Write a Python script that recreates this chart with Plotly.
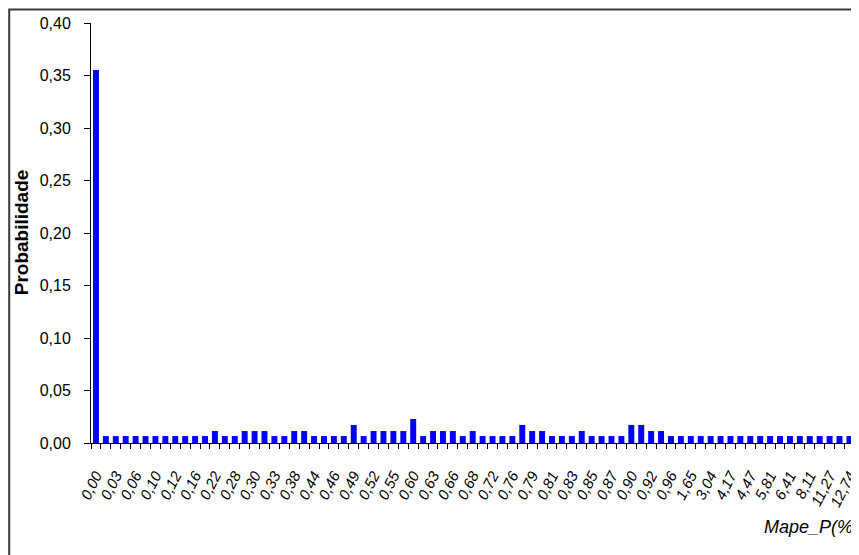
import plotly.graph_objects as go

# Category labels (odd-position labels are hidden in the reference; estimated)
categories = [
    "0,00", "0,01", "0,03", "0,05", "0,06", "0,08", "0,10", "0,11", "0,12", "0,14",
    "0,16", "0,20", "0,22", "0,25", "0,28", "0,29", "0,30", "0,32", "0,33", "0,36",
    "0,38", "0,41", "0,44", "0,45", "0,46", "0,47", "0,49", "0,51", "0,52", "0,54",
    "0,55", "0,57", "0,60", "0,62", "0,63", "0,65", "0,66", "0,67", "0,68", "0,70",
    "0,72", "0,74", "0,76", "0,78", "0,79", "0,80", "0,81", "0,82", "0,83", "0,84",
    "0,85", "0,86", "0,87", "0,89", "0,90", "0,91", "0,92", "0,94", "0,96", "1,21",
    "1,65", "2,37", "3,04", "3,52", "4,17", "4,30", "4,47", "5,12", "5,81", "6,05",
    "6,41", "7,26", "8,11", "9,84", "11,27", "12,03", "12,74", "13,90",
]

# Probability values
probabilidade = [
    0.3553,
    0.0066, 0.0066, 0.0066, 0.0066, 0.0066, 0.0066, 0.0066, 0.0066, 0.0066, 0.0066, 0.0066,
    0.0114,
    0.0066, 0.0066,
    0.0114, 0.0114, 0.0114,
    0.0066, 0.0066,
    0.0114, 0.0114,
    0.0066, 0.0066, 0.0066, 0.0066,
    0.0172,
    0.0066,
    0.0114, 0.0114, 0.0114, 0.0114,
    0.0229,
    0.0066,
    0.0114, 0.0114, 0.0114,
    0.0066,
    0.0114,
    0.0066, 0.0066, 0.0066, 0.0066,
    0.0172,
    0.0114, 0.0114,
    0.0066, 0.0066, 0.0066,
    0.0114,
    0.0066, 0.0066, 0.0066, 0.0066,
    0.0172, 0.0172,
    0.0114, 0.0114,
    0.0066, 0.0066, 0.0066, 0.0066, 0.0066, 0.0066, 0.0066, 0.0066, 0.0066, 0.0066,
    0.0066, 0.0066, 0.0066, 0.0066, 0.0066, 0.0066, 0.0066, 0.0066, 0.0066, 0.0066,
]

y_ticks = [0.00, 0.05, 0.10, 0.15, 0.20, 0.25, 0.30, 0.35, 0.40]

tick_text = [c if i % 2 == 0 else "" for i, c in enumerate(categories)]

FONT = "Liberation Sans, Arial, sans-serif"

fig = go.Figure(
    go.Bar(
        x=categories,
        y=probabilidade,
        marker=dict(color="#0000FF", line=dict(width=0)),
        hoverinfo="x+y",
    )
)

# page has an 8px body margin; figure coords = page coords - 8
OFF = 8
W, H = 859 - OFF, 555 - OFF
L = 91 - OFF
R = 0
T = 22.5 - OFF
B = H - (443.3 - OFF)
pw = W - L - R
ph = H - T - B
cat_w = 9.94

def px_x(p):
    return (p - OFF - L) / pw

def px_y(p):
    return (H - B - (p - OFF)) / ph

fig.update_layout(
    width=W,
    height=H,
    margin=dict(l=L, r=R, t=T, b=B, pad=0),
    paper_bgcolor="white",
    plot_bgcolor="white",
    separators=",.",
    bargap=0.4,
    showlegend=False,
    font=dict(family=FONT, color="black", size=16),
    xaxis=dict(
        type="category",
        range=[-0.5, -0.5 + pw / cat_w],
        tickmode="array",
        tickvals=categories,
        ticktext=tick_text,
        tickson="boundaries",
        ticks="outside",
        ticklen=5,
        tickwidth=1,
        tickcolor="black",
        tickangle=-63,
        ticklabelstandoff=17,
        tickfont=dict(family=FONT, size=15, style="italic", color="black"),
        showline=True,
        linecolor="black",
        linewidth=1,
        showgrid=False,
        zeroline=False,
        fixedrange=True,
    ),
    yaxis=dict(
        range=[0, 0.40],
        tickmode="array",
        tickvals=y_ticks,
        tickformat=".2f",
        ticks="outside",
        ticklen=6,
        tickwidth=1,
        tickcolor="black",
        ticklabelstandoff=10,
        tickfont=dict(family=FONT, size=16, color="black"),
        showline=True,
        linecolor="black",
        linewidth=1,
        showgrid=False,
        zeroline=False,
        fixedrange=True,
    ),
    annotations=[
        dict(
            text="<b>Probabilidade</b>",
            xref="paper", yref="paper",
            x=px_x(21), y=px_y(232),
            xanchor="center", yanchor="middle",
            textangle=-90,
            showarrow=False,
            font=dict(family=FONT, size=19, color="black"),
        ),
        dict(
            text="Mape_P(%)",
            xref="paper", yref="paper",
            x=px_x(764), y=px_y(527),
            xanchor="left", yanchor="middle",
            showarrow=False,
            font=dict(family=FONT, size=18, style="italic", color="black"),
        ),
    ],
    shapes=[
        dict(
            type="rect",
            xref="paper", yref="paper",
            x0=px_x(OFF + 1), x1=px_x(859 + 20),
            y0=px_y(555 + 20), y1=px_y(OFF + 1),
            line=dict(color="#3a3a3a", width=2),
            fillcolor="rgba(0,0,0,0)",
            layer="above",
        )
    ],
)

fig.write_html("out.html")
